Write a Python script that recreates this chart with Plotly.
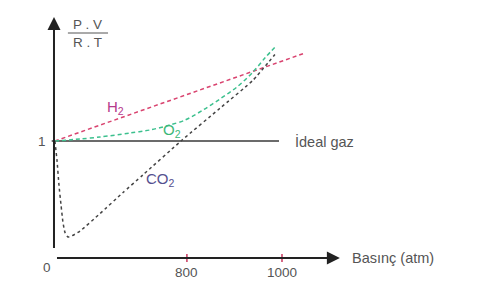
import plotly.graph_objects as go

# Schematic data (x in schematic pressure units, y = PV/RT)
h2_x = [4, 400, 800, 1101]
h2_y = [1.0, 1.272, 1.546, 1.752]

o2_x = [4, 114, 202, 333, 421, 509, 575, 654, 728, 803, 873, 925, 978]
o2_y = [1.0, 1.017, 1.034, 1.068, 1.094, 1.137, 1.179, 1.265, 1.359, 1.462, 1.590, 1.709, 1.821]

co2_x = [4, 13, 22, 31, 39, 48, 61, 79, 114, 202, 303, 390, 557, 728, 873, 969]
co2_y = [1.0, 0.84, 0.62, 0.45, 0.31, 0.22, 0.18, 0.19, 0.23, 0.38, 0.56, 0.71, 1.0, 1.28, 1.52, 1.74]

ideal_x = [-10, 987]
ideal_y = [1, 1]

x_tick_pos = [583, 1000]
x_tick_labels = ["800", "1000"]

x_arrow_end = 1254
y_arrow_end = 2.06

txt = "#555555"
font = "Liberation Sans, Arial, sans-serif"

fig = go.Figure()

fig.add_trace(go.Scatter(x=ideal_x, y=ideal_y, mode="lines",
                         line=dict(color="#3a3a3a", width=1.3)))
fig.add_trace(go.Scatter(x=h2_x, y=h2_y, mode="lines",
                         line=dict(color="#d9436f", width=1.5, dash="4px,3px")))
fig.add_trace(go.Scatter(x=o2_x, y=o2_y, mode="lines", line_shape="spline",
                         line=dict(color="#3cc08e", width=1.5, dash="4px,3px", smoothing=0.8)))
fig.add_trace(go.Scatter(x=co2_x, y=co2_y, mode="lines", line_shape="spline",
                         line=dict(color="#444444", width=1.5, dash="3px,3px", smoothing=0.5)))

# tick marks
for xv in x_tick_pos:
    fig.add_trace(go.Scatter(x=[xv, xv], y=[-0.034, 0.034], mode="lines",
                             line=dict(color="#c8385e", width=1.5)))

# fraction line
fig.add_trace(go.Scatter(x=[61, 237], y=[1.923, 1.923], mode="lines",
                         line=dict(color="#555555", width=1)))

# axes arrows
fig.add_annotation(x=x_arrow_end, y=0, ax=0, ay=0, xref="x", yref="y", axref="x", ayref="y",
                   showarrow=True, arrowhead=2, arrowsize=1.3, arrowwidth=2, arrowcolor="#222222", text=" ")
fig.add_annotation(x=0, y=y_arrow_end, ax=0, ay=0, xref="x", yref="y", axref="x", ayref="y",
                   showarrow=True, arrowhead=2, arrowsize=1.3, arrowwidth=2, arrowcolor="#222222", text=" ")

def label(x, y, text, color=txt, size=14, xanchor="center"):
    fig.add_annotation(x=x, y=y, text=text, showarrow=False, xanchor=xanchor, yanchor="middle",
                       font=dict(family=font, size=size, color=color))

label(145, 2.0, "P . V", size=13.5)
label(145, 1.838, "R . T", size=13.5)
label(-53, 1, "1", size=13.5)
label(-31, -0.085, "0", size=13.5)
for xv, t in zip(x_tick_pos, x_tick_labels):
    label(xv, -0.12, t, size=13.5)
label(1298, 0, "Basınç (atm)", xanchor="left", size=14.5)
label(1050, 1, "İdeal gaz", xanchor="left", size=14.5)
label(268, 1.29, "H<sub>2</sub>", color="#b53a8c", size=15)
label(518, 1.094, "O<sub>2</sub>", color="#3cb878", size=15)
label(465, 0.667, "CO<sub>2</sub>", color="#55508f", size=15)

fig.update_layout(
    width=492, height=286,
    margin=dict(l=0, r=0, t=0, b=0, autoexpand=False),
    paper_bgcolor="white", plot_bgcolor="white",
    showlegend=False,
    xaxis=dict(range=[-236.8, 1921.1], visible=False, fixedrange=True),
    yaxis=dict(range=[-0.2393, 2.2051], visible=False, fixedrange=True),
)

fig.write_html("out.html")
